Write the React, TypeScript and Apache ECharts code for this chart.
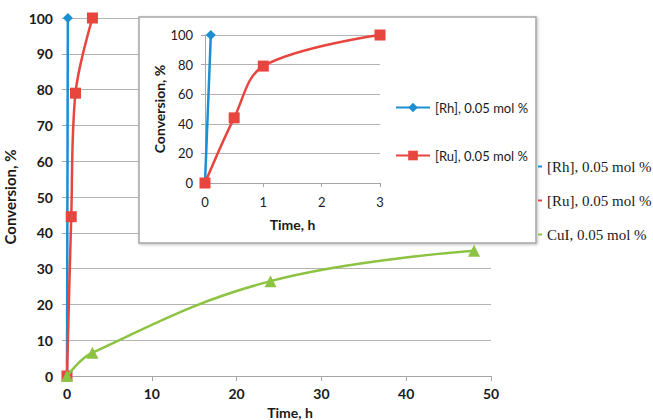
import React, { useEffect, useRef } from "react";
import * as echarts from "echarts";

const nameRh = "[Rh], 0.05 mol %";
const nameRu = "[Ru], 0.05 mol %";
const nameCu = "CuI, 0.05 mol %";

const rhData = [[0, 0], [0.1, 100]];
const ruData = [[0, 0], [0.5, 44.5], [1, 79], [3, 100]];
const cuData = [[0, 0], [3, 6.5], [24, 26.5], [48, 35]];

const insetRh = [[0, 0], [0.1, 100]];
const insetRu = [[0, 0], [0.5, 44], [1, 79], [3, 100]];

const colRh = "#1B8FD2";
const colRu = "#E8453F";
const colCu = "#8DC342";

const sans = "Lato";

export default function App() {
  const ref = useRef<HTMLDivElement>(null);
  useEffect(() => {
    const chart = echarts.init(ref.current!, null, { renderer: "svg" });
    const axisLine = { show: true, lineStyle: { color: "#a6a6a6", width: 1 } };
    const split = { show: true, lineStyle: { color: "#b3b3b3", width: 1 } };
    chart.setOption({
      animation: false,
      backgroundColor: "#ffffff",
      grid: [
        { left: 67, right: 162, top: 18, bottom: 44, outerBoundsMode: "none", containLabel: false },
        { left: 205, top: 35, width: 175, height: 148, z: 10, outerBoundsMode: "none", containLabel: false },
      ],
      graphic: [
        {
          type: "rect",
          z: 5,
          shape: { x: 139, y: 17, width: 397, height: 226 },
          style: {
            fill: "#ffffff",
            stroke: "#a6a6a6",
            lineWidth: 1.5,
            shadowBlur: 3,
            shadowOffsetX: 1,
            shadowOffsetY: 1,
            shadowColor: "rgba(0,0,0,0.25)",
          },
        },
      ],
      xAxis: [
        {
          type: "value",
          gridIndex: 0,
          min: 0,
          max: 50,
          interval: 10,
          name: "Time, h",
          nameLocation: "middle",
          nameGap: 21,
          nameTextStyle: { fontFamily: sans, fontWeight: "bold", fontSize: 14, lineHeight: 15, color: "#1a1a1a", padding: [0, 0, 0, 22] },
          axisLine,
          axisTick: { show: true, length: 5, lineStyle: { color: "#a6a6a6" } },
          splitLine: { show: false },
          axisLabel: { fontFamily: sans, fontWeight: "bold", fontSize: 14, color: "#1a1a1a", margin: 10 },
        },
        {
          type: "value",
          gridIndex: 1,
          min: 0,
          max: 3,
          interval: 1,
          z: 10,
          name: "Time, h",
          nameLocation: "middle",
          nameGap: 34,
          nameTextStyle: { fontFamily: sans, fontWeight: "bold", fontSize: 14, color: "#1a1a1a" },
          axisLine,
          axisTick: { show: true, length: 4, lineStyle: { color: "#a6a6a6" } },
          splitLine: { show: false },
          axisLabel: { fontFamily: sans, fontSize: 13, color: "#1a1a1a", margin: 12 },
        },
      ],
      yAxis: [
        {
          type: "value",
          gridIndex: 0,
          min: 0,
          max: 100,
          interval: 10,
          name: "Conversion, %",
          nameLocation: "middle",
          nameGap: 41,
          nameTextStyle: { fontFamily: sans, fontWeight: "bold", fontSize: 15, color: "#1a1a1a" },
          axisLine,
          axisTick: { show: true, length: 5, lineStyle: { color: "#a6a6a6" } },
          splitLine: split,
          axisLabel: { fontFamily: sans, fontWeight: "bold", fontSize: 14, color: "#1a1a1a", margin: 14 },
        },
        {
          type: "value",
          gridIndex: 1,
          min: 0,
          max: 100,
          interval: 20,
          z: 10,
          name: "Conversion, %",
          nameLocation: "middle",
          nameGap: 36,
          nameTextStyle: { fontFamily: sans, fontWeight: "bold", fontSize: 14, color: "#1a1a1a" },
          axisLine,
          axisTick: { show: true, length: 4, lineStyle: { color: "#a6a6a6" } },
          splitLine: split,
          axisLabel: { fontFamily: sans, fontSize: 13, color: "#1a1a1a", margin: 12 },
        },
      ],
      legend: [
        {
          orient: "vertical",
          left: 533,
          top: 154,
          itemWidth: 4,
          itemHeight: 2,
          itemGap: 19,
          icon: "rect",
          data: [nameRh, nameRu, nameCu],
          textStyle: { fontFamily: "Liberation Serif", fontSize: 15, color: "#1a1a1a", lineHeight: 14 },
          z: 6,
        },
        {
          orient: "vertical",
          left: 390,
          top: 96,
          itemWidth: 34,
          itemHeight: 12,
          itemGap: 35,
          data: [nameRh, nameRu],
          textStyle: { fontFamily: sans, fontSize: 13, color: "#1a1a1a" },
          z: 12,
        },
      ],
      series: [
        {
          name: nameRh,
          type: "line",
          xAxisIndex: 0,
          yAxisIndex: 0,
          data: rhData,
          z: 2,
          symbol: "diamond",
          symbolSize: 10,
          lineStyle: { color: colRh, width: 2.5 },
          itemStyle: { color: colRh },
        },
        {
          name: nameRu,
          type: "line",
          xAxisIndex: 0,
          yAxisIndex: 0,
          data: ruData,
          z: 3,
          smooth: 0.35,
          symbol: "rect",
          symbolSize: 11,
          lineStyle: { color: colRu, width: 2.5 },
          itemStyle: { color: colRu },
        },
        {
          name: nameCu,
          type: "line",
          xAxisIndex: 0,
          yAxisIndex: 0,
          data: cuData,
          z: 4,
          smooth: 0.4,
          symbol: "triangle",
          symbolSize: 12,
          lineStyle: { color: colCu, width: 2.5 },
          itemStyle: { color: colCu },
        },
        {
          name: nameRh,
          type: "line",
          xAxisIndex: 1,
          yAxisIndex: 1,
          data: insetRh,
          z: 12,
          symbol: "diamond",
          symbolSize: 10,
          lineStyle: { color: colRh, width: 2.5 },
          itemStyle: { color: colRh },
        },
        {
          name: nameRu,
          type: "line",
          xAxisIndex: 1,
          yAxisIndex: 1,
          data: insetRu,
          z: 13,
          smooth: 0.35,
          symbol: "rect",
          symbolSize: 11,
          lineStyle: { color: colRu, width: 2.5 },
          itemStyle: { color: colRu },
        },
      ],
    });
    return () => chart.dispose();
  }, []);
  return (
    <div
      ref={ref}
      style={{ position: "fixed", left: 0, top: 0, width: 653, height: 420 }}
    />
  );
}
